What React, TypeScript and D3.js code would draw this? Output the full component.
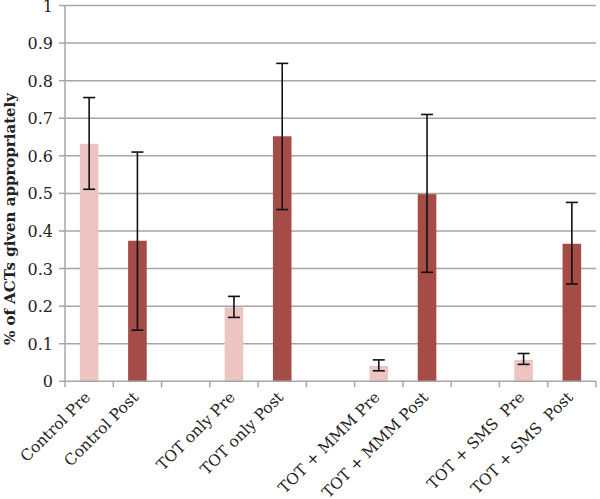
import React from 'react';
import * as d3 from 'd3';

// categories (blank slots separate the four groups)
const categories = [
  'Control Pre', 'Control Post', '',
  'TOT only Pre', 'TOT only Post', '',
  'TOT + MMM Pre', 'TOT + MMM Post', '',
  'TOT + SMS  Pre', 'TOT + SMS  Post',
];
const values = [0.632, 0.374, null, 0.197, 0.652, null, 0.041, 0.498, null, 0.057, 0.366];
const errLow = [0.511, 0.136, null, 0.17, 0.457, null, 0.028, 0.29, null, 0.045, 0.259];
const errHigh = [0.755, 0.61, null, 0.226, 0.846, null, 0.057, 0.71, null, 0.074, 0.476];
const phase = ['pre', 'post', '', 'pre', 'post', '', 'pre', 'post', '', 'pre', 'post'];
const yTicks = [0, 0.1, 0.2, 0.3, 0.4, 0.5, 0.6, 0.7, 0.8, 0.9, 1];

const W = 600;
const H = 499;
const left = 65;
const right = 596;
const top = 5.5;
const bottom = 381.3;
const font = "'DejaVu Serif', 'Liberation Serif', serif";
const gridColor = '#a6a6a6';

export default function App() {
  const x = d3.scaleBand<number>()
    .domain(d3.range(categories.length))
    .range([left, right])
    .padding(0);
  const y = d3.scaleLinear().domain([0, 1]).range([bottom, top]);
  const bw = x.bandwidth() * 0.385;
  const cap = 6;

  return (
    <svg width={W} height={H} style={{ position: 'absolute', left: 0, top: 0, background: '#fff' }}>
      {/* gridlines */}
      {yTicks.slice(1).map(t => (
        <line key={t} x1={left} x2={right} y1={y(t)} y2={y(t)} stroke={gridColor} strokeWidth={1.5} />
      ))}
      {/* y axis */}
      <line x1={left} x2={left} y1={top} y2={bottom} stroke={gridColor} strokeWidth={1.5} />
      {yTicks.map(t => (
        <g key={'yt' + t}>
          <line x1={left - 6} x2={left} y1={y(t)} y2={y(t)} stroke={gridColor} strokeWidth={1.5} />
          <text x={53} y={y(t)} dy="0.38em" textAnchor="end" fontFamily={font} fontSize={16} fill="#222">
            {d3.format('~g')(t)}
          </text>
        </g>
      ))}
      {/* bars */}
      {values.map((v, i) => v == null ? null : (
        <rect key={'b' + i}
          x={x(i)! + x.bandwidth() / 2 - bw / 2}
          y={y(v)}
          width={bw}
          height={y(0) - y(v)}
          fill={phase[i] === 'pre' ? '#eec4c3' : '#a54c46'} />
      ))}
      {/* x axis */}
      <line x1={left} x2={right} y1={bottom} y2={bottom} stroke={gridColor} strokeWidth={1.5} />
      {d3.range(categories.length + 1).map(k => {
        const xx = left + k * x.step();
        return <line key={'xt' + k} x1={xx} x2={xx} y1={bottom} y2={bottom + 6} stroke={gridColor} strokeWidth={1.5} />;
      })}
      {/* error bars */}
      {values.map((v, i) => {
        if (v == null) return null;
        const cx = x(i)! + x.bandwidth() / 2;
        const lo = y(errLow[i]!);
        const hi = y(errHigh[i]!);
        return (
          <g key={'e' + i} stroke="#111" strokeWidth={1.6}>
            <line x1={cx} x2={cx} y1={hi} y2={lo} />
            <line x1={cx - cap} x2={cx + cap} y1={hi} y2={hi} />
            <line x1={cx - cap} x2={cx + cap} y1={lo} y2={lo} />
          </g>
        );
      })}
      {/* x labels */}
      {categories.map((c, i) => c === '' ? null : (
        <text key={'xl' + i}
          transform={`translate(${x(i)! + x.bandwidth() / 2 + 2},${bottom + 17}) rotate(-45)`}
          textAnchor="end" fontFamily={font} fontSize={15.5} fill="#222"
          style={{ whiteSpace: 'pre' }}>
          {c}
        </text>
      ))}
      {/* y title */}
      <text transform={`translate(15,${219}) rotate(-90)`}
        textAnchor="middle" fontFamily={font} fontSize={15} fontWeight="bold" fill="#222">
        % of ACTs given appropriately
      </text>
    </svg>
  );
}
